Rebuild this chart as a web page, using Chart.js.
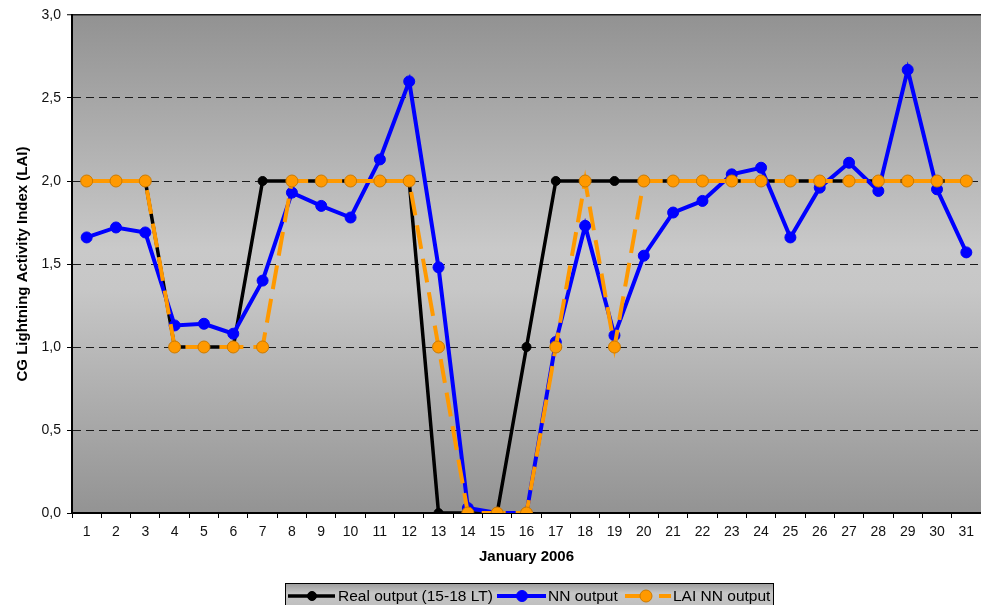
<!DOCTYPE html>
<html>
<head>
<meta charset="utf-8">
<script src="https://cdn.jsdelivr.net/npm/chart.js@4.4.1/dist/chart.umd.min.js"></script>
<style>
    html, body { margin: 0; padding: 0; background: #fff; overflow: hidden; }
    #wrap { width: 1010px; height: 605px; overflow: hidden; position: relative; }
    #laiChart { position: absolute; left: 0; top: 0; }
</style>
</head>
<body>
<div id="wrap"><canvas id="laiChart" width="988" height="605"></canvas></div>
<script>
// --- DATA ---
const days = ['1','2','3','4','5','6','7','8','9','10','11','12','13','14','15','16',
              '17','18','19','20','21','22','23','24','25','26','27','28','29','30','31'];
const realOutput = [2, 2, 2, 1, 1, 1, 2, 2, 2, 2, 2, 2, 0, 0, 0, 1,
                    2, 2, 2, 2, 2, 2, 2, 2, 2, 2, 2, 2, 2, 2, 2];
const nnOutput = [1.66, 1.72, 1.69, 1.13, 1.14, 1.08, 1.40, 1.93, 1.85, 1.78, 2.13, 2.60, 1.48, 0.03, 0.00, 0.00,
                  1.03, 1.73, 1.07, 1.55, 1.81, 1.88, 2.04, 2.08, 1.66, 1.96, 2.11, 1.94, 2.67, 1.95, 1.57];
const laiNnOutput = [2, 2, 2, 1, 1, 1, 1, 2, 2, 2, 2, 2, 1, 0, 0, 0,
                     1, 2, 1, 2, 2, 2, 2, 2, 2, 2, 2, 2, 2, 2, 2];
const yTicks = [0, 0.5, 1, 1.5, 2, 2.5, 3];
const seriesNames = ['Real output (15-18 LT)', 'NN output', 'LAI NN output'];

const FONT = "'Liberation Sans', Arial, sans-serif";
const ORANGE = '#ff9900';
const ORANGE_DASH = [24, 10];
const PLOT_RIGHT = 986; // the plot runs a little past the right edge of the picture

// --- PLUGINS ---
const plotBackground = {
    id: 'plotBackground',
    beforeDraw(chart) {
        const { ctx, chartArea: a } = chart;
        const g = ctx.createLinearGradient(0, a.top, 0, a.bottom);
        g.addColorStop(0, '#929292');
        g.addColorStop(0.47, '#c9c9c9');
        g.addColorStop(0.55, '#c7c7c7');
        g.addColorStop(1, '#939393');
        ctx.save();
        ctx.fillStyle = g;
        ctx.fillRect(a.left, a.top, a.right - a.left, a.bottom - a.top);
        ctx.restore();
    }
};

const boxLegend = {
    id: 'boxLegend',
    afterDraw(chart) {
        const ctx = chart.ctx;
        const top = 583, left = 285, right = 773, bottom = 612;
        const g = ctx.createLinearGradient(0, top, 0, bottom);
        g.addColorStop(0, '#9a9a9a');
        g.addColorStop(0.35, '#c6c6c6');
        g.addColorStop(1, '#bcbcbc');
        ctx.save();
        ctx.fillStyle = g;
        ctx.fillRect(left, top, right - left, bottom - top);
        ctx.strokeStyle = '#000';
        ctx.lineWidth = 1;
        ctx.strokeRect(left + 0.5, top + 0.5, right - left, bottom - top);

        const cy = 596;
        const items = [
            { x1: 288, x2: 335, mx: 312, tx: 338, color: '#000', width: 3.5, dash: [], r: 4.5, fill: '#000', stroke: '#000' },
            { x1: 497, x2: 546, mx: 522, tx: 548, color: '#0000ff', width: 4, dash: [], r: 5.5, fill: '#0000ff', stroke: '#0000ff' },
            { x1: 625, x2: 671, mx: 646, tx: 673, color: ORANGE, width: 4, dash: ORANGE_DASH, r: 6, fill: ORANGE, stroke: '#cc7a00' }
        ];
        items.forEach((it, i) => {
            ctx.beginPath();
            ctx.setLineDash(it.dash);
            ctx.strokeStyle = it.color;
            ctx.lineWidth = it.width;
            ctx.moveTo(it.x1, cy);
            ctx.lineTo(it.x2, cy);
            ctx.stroke();
            ctx.setLineDash([]);
            ctx.beginPath();
            ctx.arc(it.mx, cy, it.r, 0, Math.PI * 2);
            ctx.fillStyle = it.fill;
            ctx.fill();
            ctx.strokeStyle = it.stroke;
            ctx.lineWidth = 1;
            ctx.stroke();
            ctx.fillStyle = '#000';
            ctx.font = `15.5px ${FONT}`;
            ctx.textBaseline = 'middle';
            ctx.textAlign = 'left';
            ctx.fillText(seriesNames[i], it.tx, cy + 1);
        });
        ctx.restore();
    }
};

// --- CHART ---
const ctx = document.getElementById('laiChart').getContext('2d');
const chart = new Chart(ctx, {
    type: 'line',
    data: {
        labels: days,
        datasets: [{
            label: seriesNames[0],
            data: realOutput,
            borderColor: '#000',
            backgroundColor: '#000',
            borderWidth: 3.5,
            pointRadius: 4.5,
            pointBorderWidth: 1,
            pointBackgroundColor: '#000',
            pointBorderColor: '#000',
            order: 3
        }, {
            label: seriesNames[1],
            data: nnOutput,
            borderColor: '#0000ff',
            backgroundColor: '#0000ff',
            borderWidth: 4,
            pointRadius: 5.5,
            pointBorderWidth: 1,
            pointBackgroundColor: '#0000ff',
            pointBorderColor: '#0000ff',
            order: 2
        }, {
            label: seriesNames[2],
            data: laiNnOutput,
            borderColor: ORANGE,
            backgroundColor: ORANGE,
            borderWidth: 4,
            borderDash: ORANGE_DASH,
            pointRadius: 6,
            pointBorderWidth: 1,
            pointBackgroundColor: ORANGE,
            pointBorderColor: '#cc7a00',
            order: 1
        }]
    },
    options: {
        responsive: false,
        animation: false,
        devicePixelRatio: 1,
        layout: { padding: { top: 15, right: 1.5, left: 0, bottom: 0 } },
        elements: { line: { tension: 0, fill: false } },
        plugins: { legend: { display: false }, tooltip: { enabled: false } },
        scales: {
            x: {
                offset: true,
                grid: {
                    offset: true,
                    drawOnChartArea: false,
                    drawTicks: true,
                    tickLength: 5,
                    tickColor: '#000',
                    tickWidth: 1
                },
                border: { display: true, color: '#000', width: 2 },
                ticks: {
                    color: '#111',
                    padding: 6,
                    font: { family: FONT, size: 14 },
                    maxRotation: 0,
                    autoSkip: false
                },
                title: {
                    display: true,
                    text: 'January 2006',
                    color: '#000',
                    font: { family: FONT, size: 15, weight: 'bold' },
                    padding: { top: 0, bottom: 39 }
                },
                afterFit: (scale) => { scale.height = 92; }
            },
            y: {
                min: 0,
                max: 3,
                afterBuildTicks: (scale) => { scale.ticks = yTicks.map(v => ({ value: v })); },
                grid: {
                    color: (c) => (c.tick && c.tick.value === 0) ? 'rgba(0,0,0,0)' : '#1a1a1a',
                    lineWidth: (c) => (c.tick && c.tick.value === 3) ? 1.5 : 1,
                    tickLength: 5,
                    tickColor: '#000',
                    tickWidth: 1
                },
                border: {
                    display: true,
                    color: '#000',
                    width: 2,
                    dash: (c) => (c.tick && c.tick.value !== 3) ? [8, 5] : []
                },
                ticks: {
                    color: '#111',
                    padding: 6,
                    font: { family: FONT, size: 14 },
                    callback: (v) => v.toFixed(1).replace('.', ',')
                },
                title: {
                    display: true,
                    text: 'CG Lightning Activity Index (LAI)',
                    color: '#000',
                    font: { family: FONT, size: 15, weight: 'bold' },
                    padding: { top: 14, bottom: 0 }
                },
                afterFit: (scale) => { scale.width = 72; }
            }
        }
    },
    plugins: [plotBackground, boxLegend]
});

// widen the canvas so the plot area ends where the original one did
const shortBy = PLOT_RIGHT - chart.chartArea.right;
if (Math.abs(shortBy) > 0.5) chart.resize(Math.round(chart.width + shortBy), 605);
</script>
</body>
</html>
